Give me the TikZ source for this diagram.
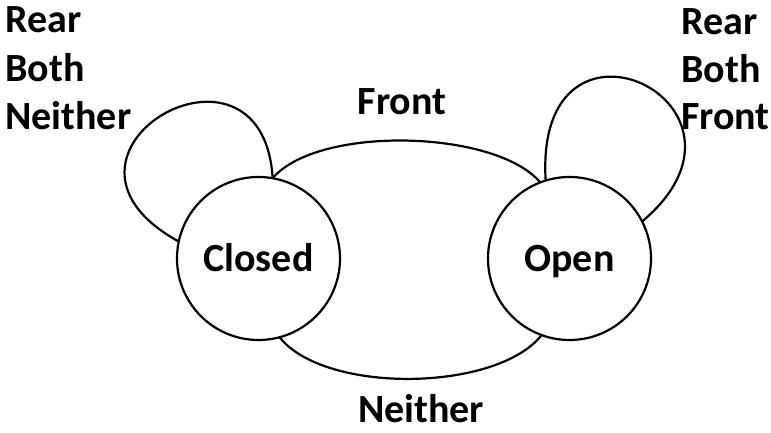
\documentclass[tikz,border=0pt]{standalone}
\usepackage{fontspec}
\setmainfont{Carlito}
\usetikzlibrary{positioning}
\begin{document}
\begin{tikzpicture}[x=1pt, y=1pt,
    statenode/.style={circle, draw=black, line width=2.2pt, minimum size=163pt, inner sep=0pt, outer sep=0pt, text height=25.5pt, text depth=0pt, font=\bfseries\fontsize{40}{48}\selectfont},
    labelnode/.style={inner sep=0pt, font=\bfseries\fontsize{40}{48}\selectfont},
    link/.style={line width=2.2pt}]
    \useasboundingbox (0,0) rectangle (771,433);
    % nodes
    \node[statenode]      (closed)   at (258.5,174.5)          {Closed};
    \node[statenode]      (open)     [right=148pt of closed]   {Open};
    % labels
    \node[labelnode, anchor=base west] (lrear)    at (5,400)   {Rear};
    \node[labelnode, anchor=base west] (lboth)    at (5,351)   {Both};
    \node[labelnode, anchor=base west] (lneither) at (5,303)   {Neither};
    \node[labelnode, anchor=base west] (rrear)    at (681,398) {Rear};
    \node[labelnode, anchor=base west] (rboth)    at (681,350) {Both};
    \node[labelnode, anchor=base west] (rfront)   at (681,303) {Front};
    \node[labelnode, anchor=base]      (front)    at (402,318) {Front};
    \node[labelnode, anchor=base]      (neither)  at (421,10)  {Neither};
    % lines
    \draw[link] (closed.80) .. controls +(45,53) and +(-45,53) .. (open.111);
    \draw[link] (closed.-75) .. controls +(45,-57) and +(-45,-57) .. (open.-110);
    \draw[link] (closed.168) .. controls +(-160,88) and +(-10,165) .. (closed.80);
    \draw[link] (open.107) .. controls +(-12,195) and +(140,118) .. (open.27);
\end{tikzpicture}
\end{document}
